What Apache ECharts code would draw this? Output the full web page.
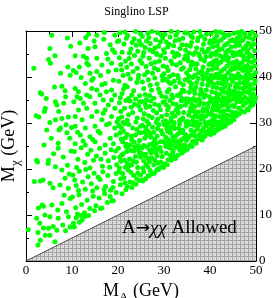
<!DOCTYPE html>
<html>
<head>
<meta charset="utf-8">
<script src="https://cdn.jsdelivr.net/npm/echarts@6/dist/echarts.min.js"></script>
<style>
html,body{margin:0;padding:0;background:#fff;}
#chart{width:273px;height:298px;}
</style>
</head>
<body>
<div id="chart"></div>
<script>
// ---- data ----
var chartTitle = 'Singlino LSP';
var axisMin = 0, axisMax = 50, tickStep = 10;
// kinematic line M_chi = M_A / 2 (edge of the hatched region)
var lineMA = [0, 50];
var lineMchi = [0, 25];

// scatter points [M_A, M_chi], grouped by M_A strips
var strip0 = [[5.6,49.1],[5.2,46.2],[4.9,43.8],[5.3,43.0],[6.3,44.6],[1.7,41.9],[9.7,46.7],[9.1,42.2],[9.6,40.4],[7.8,38.0],[8.5,37.0],[6.2,37.8],[3.1,36.6],[3.4,36.3],[4.4,35.3],[6.4,34.6],[4.2,33.2],[2.2,31.6],[2.8,31.3],[4.0,32.5],[6.7,33.9],[7.1,32.5],[8.2,34.3],[8.6,35.7],[6.4,30.7],[7.8,31.0],[5.2,30.1],[4.5,28.5],[7.2,28.5],[7.5,28.9],[8.7,29.6],[5.5,26.7],[9.5,26.7],[7.0,25.6],[3.9,25.2],[9.2,31.3],[2.3,21.9],[2.5,21.5],[4.9,21.9],[4.8,21.2],[7.0,24.5],[6.4,20.5],[7.8,19.8],[8.5,18.0],[1.8,17.3],[3.7,17.6],[3.1,17.4],[5.2,16.9],[5.9,15.9],[7.4,16.5],[9.2,15.8],[8.3,14.3],[3.5,12.2],[3.8,11.9],[2.7,11.5],[5.6,12.2],[6.9,11.1],[7.8,12.5],[9.6,13.6],[4.1,10.0],[5.2,9.6],[2.3,9.3],[3.0,8.2],[7.0,9.3],[8.8,10.7],[9.2,9.6],[3.8,7.2],[4.9,7.1],[5.9,7.5],[2.6,6.2],[4.2,5.6],[5.2,5.6],[6.7,6.7],[3.1,4.5],[6.3,4.2],[0.5,6.8],[8.0,7.8],[2.6,3.5],[8.6,6.6],[9.6,7.4],[9.0,20.8],[8.1,22.6],[9.8,23.9],[6.0,23.3],[9.4,18.9],[8.9,27.9],[9.9,29.0],[7.5,40.8],[9.0,48.5]];

var strip1 = [[13.0,48.6],[13.6,49.3],[15.4,49.1],[19.3,49.1],[13.5,46.2],[15.0,46.6],[18.3,47.0],[18.8,45.9],[10.7,44.6],[12.5,44.5],[13.2,44.1],[15.4,44.1],[17.5,45.1],[19.3,45.3],[13.2,43.0],[13.6,42.6],[16.5,42.6],[18.6,43.0],[11.6,42.2],[10.3,41.4],[10.9,41.0],[13.9,40.8],[15.4,41.2],[17.9,41.2],[19.6,41.5],[14.6,39.7],[14.3,39.3],[12.9,38.6],[17.2,38.6],[16.5,38.3],[19.0,39.3],[10.7,37.5],[11.4,36.8],[14.3,37.5],[15.4,37.2],[17.5,36.8],[18.6,37.2],[11.1,35.7],[11.8,35.3],[13.2,36.1],[13.9,35.7],[16.1,36.1],[16.8,35.0],[19.3,36.1],[18.6,35.0],[10.4,34.6],[12.5,34.3],[15.0,34.3],[17.9,33.9],[11.4,32.8],[13.2,33.2],[15.4,32.5],[17.2,32.8],[19.3,33.2],[10.7,31.4],[12.2,30.7],[14.3,31.4],[16.5,30.7],[18.6,31.4],[10.7,29.3],[12.9,28.9],[15.0,29.3],[17.5,29.6],[19.3,28.9],[11.8,27.4],[13.9,27.0],[16.1,27.8],[18.3,26.7],[19.6,27.4],[10.7,25.5],[12.9,25.2],[15.0,25.9],[17.2,25.2],[19.0,25.5],[16.9,48.2],[11.7,47.4],[17.8,43.9],[14.8,47.8],[12.0,39.9],[16.2,40.3],[18.1,29.9],[14.5,26.4],[11.2,28.0],[16.8,32.1],[19.8,30.2],[12.4,26.1],[15.7,28.2],[19.9,47.7],[17.0,49.7],
[10.5,23.8],[11.3,22.1],[12.0,24.6],[12.8,21.4],[13.4,23.2],[14.1,24.1],[14.7,21.9],[15.3,22.8],[16.0,24.5],[16.6,20.6],[17.2,23.4],[17.9,21.8],[18.5,24.2],[19.1,22.5],[19.7,20.9],[11.0,20.3],[13.9,20.2],[16.3,22.1],[18.2,20.4],[19.5,23.9],
[10.2,18.7],[10.9,16.4],[11.6,19.5],[12.3,17.2],[12.9,15.6],[13.5,18.3],[14.2,16.8],[14.8,19.1],[15.4,15.9],[16.1,17.7],[16.7,19.4],[17.3,16.2],[17.8,18.6],[18.4,15.4],[19.0,17.3],[19.6,19.0],[11.4,15.3],[13.0,19.9],[15.7,18.2],[18.9,16.0],[10.6,17.6],[14.5,15.2],[17.0,15.5],
[10.1,13.9],[10.8,11.6],[11.5,14.4],[12.1,12.3],[12.7,10.5],[13.3,13.2],[13.9,11.4],[14.6,14.1],[15.2,12.0],[15.9,13.7],[16.5,11.5],[17.1,14.6],[17.7,12.7],[18.3,14.0],[19.0,13.1],[19.6,14.9],[11.2,10.2],[13.6,9.9],[16.2,11.4],[14.9,10.9],[18.7,13.1],
[10.3,8.2],[10.9,9.4],[11.6,8.4],[12.2,8.9],[12.8,9.7],[10.5,7.4],[11.9,9.9]];

var strip2 = [[20.4,49.6],[21.3,47.2],[22.1,49.0],[22.8,46.1],[23.5,48.3],[24.3,45.6],[24.9,49.4],[20.9,45.4],[21.8,48.4],[23.1,47.5],[24.0,46.9],[20.2,47.9],[22.5,45.2],[24.6,47.8],[21.5,49.8],[23.8,49.9],
[25.3,48.8],[25.9,46.4],[26.5,49.5],[27.0,47.3],[27.6,45.5],[28.2,48.1],[28.8,46.7],[29.4,49.2],[29.9,45.9],[25.6,45.3],[26.2,47.8],[26.9,45.9],[27.4,49.9],[28.0,46.3],[28.6,49.6],[29.2,47.6],[25.1,47.0],[26.7,48.6],[28.4,45.1],[29.7,48.4],
[20.3,44.2],[20.8,41.5],[21.6,43.4],[22.2,40.6],[22.9,42.8],[23.6,44.7],[24.2,41.9],[24.8,43.6],[21.1,40.3],[23.3,41.2],[24.5,40.4],[20.6,42.7],[22.4,44.0],[21.9,42.1],
[25.4,44.5],[26.1,42.3],[26.8,44.1],[27.5,40.8],[28.1,43.2],[28.7,41.6],[29.3,44.6],[29.8,42.4],[25.8,40.5],[27.2,42.9],[28.4,44.9],[29.6,40.2],[26.4,41.1],[25.2,43.0],[27.9,41.9],[29.0,43.5],
[20.2,39.1],[20.9,36.4],[21.5,38.2],[22.3,35.3],[22.7,39.6],[23.4,37.0],[24.1,38.8],[24.7,35.9],[21.2,37.4],[23.0,36.1],[24.4,39.7],[20.5,35.5],[22.0,37.9],[23.8,35.2],
[25.3,38.9],[25.9,36.2],[26.6,39.4],[27.3,37.1],[27.8,35.4],[28.5,38.5],[29.1,36.6],[29.7,39.3],[26.2,35.1],[28.0,39.8],[29.5,35.8],[25.6,37.5],[27.0,38.2],[28.8,37.4],[26.9,36.0],
[20.3,34.4],[20.8,31.3],[21.4,33.2],[22.0,30.6],[22.6,34.8],[23.2,32.3],[23.9,30.2],[24.5,33.7],[20.6,32.5],[21.7,34.9],[22.3,31.8],[23.6,34.1],[24.2,31.1],[24.9,32.8],[21.1,30.1],[22.9,33.4],[20.1,30.9],[24.7,34.6],
[25.2,34.7],[25.7,32.0],[26.3,30.4],[26.9,33.6],[27.4,31.2],[28.0,34.1],[28.6,30.8],[29.2,32.9],[29.8,34.5],[25.5,30.9],[26.1,33.4],[26.7,31.6],[27.7,32.7],[28.3,30.1],[28.9,33.8],[29.5,31.4],[25.9,34.2],[27.1,34.8],[28.4,32.2],[29.9,30.3],
[20.2,29.4],[20.7,26.5],[21.2,28.2],[21.8,25.4],[22.3,29.7],[22.9,27.1],[23.5,25.8],[24.1,28.6],[24.7,26.2],[20.5,27.8],[21.5,29.9],[22.6,25.2],[23.2,28.9],[23.8,27.4],[24.4,25.1],[24.9,29.3],[21.0,25.9],[22.0,27.5],[20.8,28.9],[23.0,26.3],[24.6,27.9],[21.6,26.8],
[25.3,29.5],[25.8,26.7],[26.4,28.3],[26.9,25.3],[27.5,29.1],[28.0,26.4],[28.6,28.8],[29.2,25.9],[29.7,27.6],[25.6,25.1],[26.2,27.3],[26.7,29.8],[27.2,26.9],[27.8,28.0],[28.3,25.5],[28.9,29.6],[29.4,28.3],[25.1,27.9],[26.0,29.0],[27.0,27.8],[28.5,27.1],[29.9,26.0],[27.6,25.6],[25.9,28.1],
[20.1,24.5],[20.6,21.7],[21.1,23.3],[21.6,20.4],[22.1,24.8],[22.5,22.2],[23.0,20.9],[23.5,23.9],[24.0,21.5],[24.5,24.2],[24.9,22.6],[20.3,20.2],[20.8,23.0],[21.4,21.9],[21.9,23.8],[22.4,20.7],[22.8,24.0],[23.3,21.8],[23.8,22.7],[24.3,20.3],[24.7,23.5],[20.4,22.6],[21.7,24.9],[23.6,24.8],[22.0,21.3],
[25.2,24.6],[25.6,21.8],[26.0,23.2],[26.5,20.5],[26.9,24.1],[27.3,22.4],[27.8,20.9],[28.2,23.6],[28.7,21.3],[29.1,24.7],[29.6,22.7],[29.9,20.3],[25.4,20.2],[25.9,22.9],[26.3,24.8],[26.8,21.6],[27.2,23.5],[27.6,24.4],[28.0,21.9],[28.5,22.9],[28.9,20.1],[29.4,23.8],[25.1,23.4],[26.6,22.3],[27.9,24.9],[29.3,21.5],[26.1,21.0],[28.4,24.2],
[20.2,19.4],[20.5,16.6],[20.9,14.6],[21.3,18.1],[21.7,15.5],[22.2,19.8],[22.6,17.2],[23.0,16.0],[23.4,18.6],[23.9,16.7],[24.3,19.1],[24.7,17.5],[21.0,19.0],[22.0,16.2],[23.2,17.0],[24.1,17.8],[20.6,17.9],[22.8,19.3],[24.9,18.7],[21.5,17.0],
[25.2,17.6],[25.6,19.4],[26.0,17.9],[26.5,18.5],[27.0,19.7],[27.3,18.9],[27.9,19.1],[28.4,19.8],[25.4,17.4],[26.8,18.6],[28.8,19.9],[29.5,20.5]];

var strip3 = [[30.2,49.3],[30.8,46.5],[31.3,48.7],[31.9,45.4],[32.4,47.9],[33.0,49.8],[33.5,46.2],[34.1,48.4],[34.7,45.8],[30.5,47.6],[31.6,49.9],[32.1,46.8],[32.8,45.1],[33.3,48.1],[33.9,47.0],[34.5,49.6],[30.1,45.3],[31.1,47.1],[34.9,46.9],[32.6,49.1],
[30.3,44.1],[30.9,41.4],[31.5,43.5],[32.0,40.5],[32.7,42.6],[33.2,44.8],[33.8,41.7],[34.4,43.9],[34.9,40.9],[30.6,42.2],[31.2,40.1],[32.3,44.4],[33.5,43.1],[34.2,42.0],[30.0,40.7],[31.8,42.9],[33.0,40.3],[34.7,44.6],
[30.2,39.5],[30.7,36.8],[31.4,38.6],[31.9,35.5],[32.5,37.9],[33.1,39.8],[33.6,36.4],[34.2,38.3],[34.8,35.2],[30.4,35.6],[31.1,37.3],[32.2,39.1],[32.9,36.0],[33.4,38.8],[34.0,37.2],[34.6,39.4],[30.9,39.0],[31.7,36.1],[33.8,35.4],[34.4,36.9],
[30.1,34.6],[30.6,31.8],[31.0,33.5],[31.5,30.4],[32.0,34.2],[32.4,31.5],[32.9,33.1],[33.4,30.6],[33.8,34.8],[34.3,32.3],[34.8,30.2],[30.3,30.5],[30.8,32.9],[31.3,34.9],[31.8,32.1],[32.2,30.1],[32.7,34.0],[33.1,32.2],[33.6,33.6],[34.1,31.1],[34.6,33.9],[30.5,33.9],[31.6,31.1],[32.6,32.8],[33.9,30.7],[34.9,34.5],
[30.1,29.6],[30.4,26.9],[30.8,28.2],[31.2,25.4],[31.5,29.1],[31.9,27.0],[32.3,28.8],[32.6,25.7],[33.0,27.6],[33.4,29.8],[33.7,26.3],[34.1,28.4],[34.5,25.2],[34.8,29.3],[30.3,25.6],[30.6,28.9],[31.0,26.3],[31.4,27.8],[31.7,25.1],[32.1,29.7],[32.5,27.1],[32.8,26.0],[33.2,28.9],[33.6,25.3],[33.9,27.9],[34.3,26.7],[34.7,27.5],[30.9,29.9],[32.0,26.1],[33.5,28.3],[34.9,26.2],[31.3,28.5],
[30.2,21.1],[30.5,23.4],[30.9,22.0],[31.2,24.6],[31.6,21.9],[31.9,23.5],[32.3,22.6],[32.7,24.8],[33.0,23.0],[33.4,24.2],[33.8,23.4],[34.2,24.5],[34.6,24.0],[30.4,24.9],[30.7,20.9],[31.4,23.0],[32.0,24.0],[32.5,22.3],[33.2,24.7],[34.0,23.6],[34.9,24.7],[31.8,22.4],
[35.2,49.5],[35.7,46.7],[36.2,48.6],[36.8,45.3],[37.3,47.9],[37.8,49.9],[38.3,46.0],[38.9,48.2],[39.4,45.6],[39.9,47.4],[35.5,45.2],[36.0,47.5],[36.5,49.8],[37.1,46.3],[37.6,45.0],[38.1,48.9],[38.6,47.1],[39.2,49.3],[39.7,46.1],[35.9,48.9],[37.4,48.5],[38.8,45.4],
[35.1,44.3],[35.6,41.6],[36.1,43.2],[36.7,40.4],[37.2,42.8],[37.7,44.6],[38.2,41.3],[38.8,43.5],[39.3,40.8],[39.8,42.7],[35.4,40.2],[35.9,42.5],[36.4,44.9],[36.9,41.8],[37.5,40.9],[38.0,43.9],[38.5,42.2],[39.1,44.4],[39.6,41.5],[35.3,43.5],[36.6,42.9],[38.4,40.3],
[35.1,39.4],[35.5,36.7],[36.0,38.5],[36.4,35.3],[36.9,37.8],[37.4,39.7],[37.8,36.2],[38.3,38.4],[38.7,35.6],[39.2,37.2],[39.7,39.1],[35.3,35.2],[35.8,37.6],[36.2,39.9],[36.7,36.4],[37.1,38.8],[37.6,35.1],[38.0,37.3],[38.5,39.5],[39.0,36.1],[39.5,38.2],[39.9,35.7],[35.6,38.9],[36.6,37.1],[38.2,36.6],[39.3,39.8],
[35.1,34.5],[35.4,31.7],[35.8,33.3],[36.2,30.4],[36.5,32.6],[36.9,34.8],[37.3,31.3],[37.6,33.9],[38.0,30.8],[38.4,32.5],[38.7,34.2],[39.1,31.5],[39.5,33.4],[39.8,30.2],[35.2,30.3],[35.6,32.5],[35.9,34.9],[36.3,31.2],[36.7,33.6],[37.0,30.2],[37.4,32.4],[37.8,34.6],[38.2,31.6],[38.5,33.1],[38.9,30.1],[39.3,32.6],[39.7,34.3],[36.1,33.9],[37.2,35.0],[38.6,31.0],[39.9,31.9],[36.8,31.8],
[35.1,24.3],[35.3,26.8],[35.6,25.1],[35.9,28.4],[36.2,26.0],[36.4,29.5],[36.7,27.2],[37.0,25.6],[37.2,28.7],[37.5,26.6],[37.8,29.8],[38.0,27.3],[38.3,26.3],[38.6,28.9],[38.9,27.1],[39.2,29.4],[39.5,27.8],[39.8,28.6],[35.4,29.6],[35.8,27.3],[36.1,24.9],[36.5,28.0],[36.9,26.1],[37.3,29.2],[37.7,27.5],[38.1,28.2],[38.5,26.9],[39.0,28.0],[39.4,29.9],[39.9,27.6]];

var strip4 = [[40.2,49.4],[40.6,46.6],[41.0,48.3],[41.4,45.5],[41.8,47.7],[42.2,49.8],[42.6,46.1],[43.0,48.6],[43.4,45.2],[43.8,47.3],[44.2,49.2],[44.6,46.5],[44.9,48.1],[40.4,45.1],[40.8,47.6],[41.2,49.9],[41.6,46.8],[42.0,45.9],[42.4,48.0],[42.8,49.5],[43.2,46.9],[43.6,49.0],[44.0,45.8],[44.4,47.9],[44.8,45.3],[40.1,47.9],[41.5,48.9],[43.7,45.6],
[40.1,44.5],[40.5,41.7],[40.9,43.4],[41.3,40.6],[41.7,42.8],[42.1,44.7],[42.5,41.3],[42.9,43.8],[43.3,40.2],[43.7,42.4],[44.1,44.2],[44.5,41.5],[44.9,43.1],[40.3,40.4],[40.7,42.6],[41.1,44.9],[41.5,41.9],[41.9,40.7],[42.3,43.2],[42.7,44.3],[43.1,41.8],[43.5,44.6],[43.9,40.9],[44.3,43.0],[44.7,40.3],[40.2,43.0],[41.4,43.7],[42.6,40.1],[43.8,43.6],[44.8,42.0],
[40.1,39.6],[40.4,36.8],[40.8,38.4],[41.1,35.3],[41.5,37.6],[41.8,39.8],[42.2,36.3],[42.5,38.6],[42.9,35.5],[43.2,37.9],[43.6,39.4],[43.9,36.5],[44.3,38.2],[44.6,35.1],[44.9,39.1],[40.2,35.2],[40.6,37.9],[40.9,39.9],[41.3,36.5],[41.7,38.7],[42.0,35.1],[42.4,37.4],[42.7,39.5],[43.1,36.7],[43.4,38.8],[43.8,35.6],[44.1,37.3],[44.5,39.8],[44.8,36.8],[40.3,38.9],[41.6,35.9],[42.8,37.0],[43.5,35.0],[44.4,36.2],
[40.1,34.7],[40.4,31.9],[40.7,33.5],[41.0,30.6],[41.4,32.8],[41.7,34.9],[42.0,31.4],[42.4,33.7],[42.7,30.9],[43.0,32.6],[43.4,34.4],[43.7,31.7],[44.0,33.3],[44.4,30.5],[44.7,32.4],[40.2,30.3],[40.5,32.7],[40.9,34.3],[41.2,31.6],[41.5,33.9],[41.9,30.2],[42.2,32.5],[42.6,34.6],[42.9,31.8],[43.2,33.9],[43.6,30.8],[43.9,32.9],[44.2,34.8],[44.6,31.6],[44.9,33.8],[40.6,30.9],[41.8,33.2],[42.8,30.1],[43.8,34.0],[44.5,30.2],[41.1,34.4],
[40.2,27.5],[40.5,29.1],[40.8,28.0],[41.1,29.7],[41.4,28.5],[41.7,29.4],[42.0,28.7],[42.3,29.9],[42.6,29.0],[42.9,29.6],[43.3,29.3],[43.6,29.9],[40.3,28.6],[40.9,27.8],[41.5,28.4],[42.1,29.3],[40.1,29.8],[43.9,30.0],
[45.2,49.5],[45.5,46.7],[45.9,48.4],[46.2,45.4],[46.6,47.8],[46.9,49.9],[47.3,46.2],[47.6,48.7],[48.0,45.3],[48.3,47.4],[48.7,49.3],[49.0,46.5],[49.4,48.2],[49.7,45.7],[45.4,45.2],[45.7,47.6],[46.1,49.7],[46.4,46.9],[46.8,45.6],[47.1,48.0],[47.5,49.5],[47.8,46.8],[48.2,45.9],[48.5,48.6],[48.9,47.0],[49.2,49.8],[49.6,47.1],[49.9,49.0],[45.1,47.9],[46.5,48.9],
[45.1,44.6],[45.4,41.8],[45.8,43.5],[46.1,40.7],[46.4,42.9],[46.8,44.8],[47.1,41.4],[47.4,43.8],[47.8,40.3],[48.1,42.5],[48.4,44.3],[48.8,41.6],[49.1,43.2],[49.5,40.5],[49.8,42.4],[45.2,40.2],[45.6,42.6],[45.9,44.9],[46.3,41.9],[46.6,40.1],[47.0,43.1],[47.3,44.5],[47.6,42.2],[48.0,40.9],[48.3,43.6],[48.6,44.9],[49.0,42.0],[49.3,44.5],[49.7,43.6],[45.3,43.1],[46.9,42.0],[48.5,40.6],[49.9,41.0],[47.9,41.7],
[45.1,39.7],[45.4,36.9],[45.7,38.5],[46.0,35.4],[46.3,37.7],[46.7,39.9],[47.0,36.4],[47.3,38.7],[47.6,35.6],[47.9,37.9],[48.2,39.5],[48.5,36.6],[48.8,38.3],[49.2,35.2],[49.5,37.4],[49.8,39.2],[45.2,35.3],[45.5,37.9],[45.9,39.8],[46.2,36.6],[46.5,38.8],[46.8,35.2],[47.2,37.5],[47.5,39.6],[47.8,36.8],[48.1,38.9],[48.4,35.1],[48.7,37.3],[49.0,39.8],[49.4,36.3],[49.7,38.6],[45.3,36.1],[46.4,35.9],[47.7,38.2],[48.9,36.0],[49.9,35.6],
[45.1,31.4],[45.3,33.6],[45.6,32.3],[45.8,34.5],[46.1,31.9],[46.3,33.2],[46.6,34.7],[46.9,32.6],[47.2,33.8],[47.5,32.4],[47.8,34.4],[48.1,33.0],[48.4,34.8],[48.7,33.6],[49.0,34.3],[49.3,33.9],[49.7,34.6],[45.2,30.7],[45.7,31.5],[46.4,32.0],[47.0,34.9],[48.3,32.8]];

// ---- chart ----
var serif = "'Liberation Serif','Times New Roman','DejaVu Serif',serif";

function hatchPattern() {
  var c = document.createElement('canvas');
  c.width = 4; c.height = 4;
  var g = c.getContext('2d');
  g.fillStyle = '#dedede';
  g.fillRect(0, 0, 4, 4);
  g.fillStyle = '#a4a4a4';
  g.fillRect(0, 0, 4, 1);
  g.fillRect(0, 0, 1, 4);
  g.fillStyle = '#c4c4c4';
  g.fillRect(2, 2, 1, 1);
  return c;
}

var chart = echarts.init(document.getElementById('chart'), null, {renderer: 'canvas'});

function baseAxis(extra) {
  var ax = {
    type: 'value', min: axisMin, max: axisMax, interval: tickStep,
    axisLine: {show: true, onZero: false, lineStyle: {color: '#000', width: 1}},
    axisTick: {show: true, inside: true, length: 6, lineStyle: {color: '#000', width: 1}},
    minorTick: {show: true, splitNumber: 2, length: 3, lineStyle: {color: '#000', width: 1}},
    splitLine: {show: false},
    axisLabel: {show: false}
  };
  for (var k in extra) ax[k] = extra[k];
  return ax;
}

var nameRich = {
  m: {fontSize: 18, fontFamily: serif, color: '#000', lineHeight: 26, verticalAlign: 'middle'},
  s: {fontSize: 13, fontFamily: serif, color: '#000', lineHeight: 13, verticalAlign: 'bottom'}
};

var lineData = lineMA.map(function (x, i) { return [x, lineMchi[i]]; });
var scatterData = [].concat(strip0, strip1, strip2, strip3, strip4);

chart.setOption({
  animation: false,
  backgroundColor: '#fff',
  title: {
    text: chartTitle, left: 'center', top: 1,
    textStyle: {fontSize: 12, fontWeight: 'normal', fontFamily: serif, color: '#000'}
  },
  grid: {left: 26, right: 17, top: 31, bottom: 37, containLabel: false, outerBoundsMode: 'none'},
  xAxis: [
    baseAxis({
      position: 'bottom',
      axisLabel: {show: true, color: '#000', fontSize: 13, fontFamily: serif, margin: 3},
      name: '{m|M}{s|A}{m| (GeV)}', nameLocation: 'middle', nameGap: 12,
      nameTextStyle: {rich: nameRich}
    }),
    baseAxis({position: 'top'})
  ],
  yAxis: [
    baseAxis({
      position: 'left',
      name: '{m|M}{s|\u03c7}{m| (GeV)}', nameLocation: 'middle', nameGap: 4, nameRotate: 90,
      nameTextStyle: {rich: nameRich}
    }),
    baseAxis({
      position: 'right',
      axisLabel: {show: true, color: '#000', fontSize: 13, fontFamily: serif, margin: 3}
    })
  ],
  series: [
    {
      type: 'line', xAxisIndex: 0, yAxisIndex: 0,
      data: lineData, symbol: 'none', silent: true,
      lineStyle: {color: '#444', width: 1},
      areaStyle: {color: {image: hatchPattern(), repeat: 'repeat'}, opacity: 1, origin: 'start'},
      z: 1
    },
    {
      type: 'scatter', xAxisIndex: 0, yAxisIndex: 0,
      data: scatterData, symbol: 'circle', symbolSize: 5,
      itemStyle: {color: '#00ff00', opacity: 1},
      silent: true, z: 2
    }
  ],
  graphic: {
    elements: [
      {
        type: 'text', x: 122, y: 218, z: 100, silent: true,
        style: {
          text: '{t|A}{a|\u2192}{c|\u03c7\u03c7}{t| Allowed}',
          fill: '#000',
          rich: {
            t: {fontSize: 19, fontFamily: serif, fill: '#000', lineHeight: 21},
            a: {fontSize: 17, fontFamily: "'DejaVu Sans',sans-serif", fill: '#000', lineHeight: 21},
            c: {fontSize: 19, fontFamily: serif, fontStyle: 'italic', fill: '#000', lineHeight: 21}
          }
        }
      }
    ]
  }
});
</script>
</body>
</html>
